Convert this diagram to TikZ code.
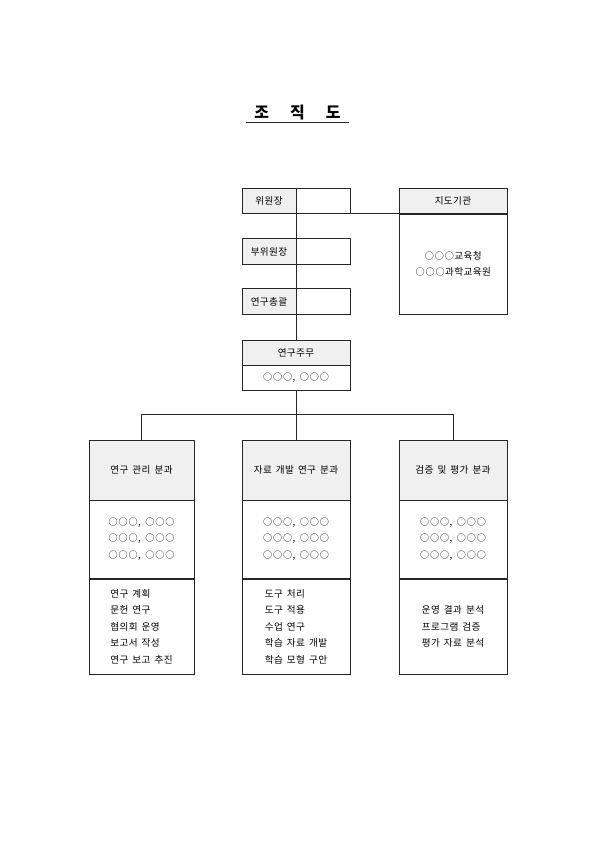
\documentclass[tikz,border=0pt]{standalone}
\usepackage{fontspec}
\setmainfont{Noto Sans CJK KR}[LetterSpace=4, WordSpace=1.6]
\usepackage{tikz}
\pgfdeclarelayer{edgelayer}
\pgfdeclarelayer{nodelayer}
\pgfsetlayers{edgelayer,nodelayer,main}
\tikzstyle{edge}=[draw=black!85, line width=0.8pt]
\tikzstyle{cell}=[rectangle, draw=black!85, line width=0.8pt, fill=white, inner sep=0pt, outer sep=0pt, font=\fontsize{9.6}{16.5}\selectfont, align=center]
\tikzstyle{head}=[cell, fill=gray!12]
\tikzstyle{half}=[minimum width=54pt, minimum height=25.5pt]
\tikzstyle{wide}=[minimum width=108pt]
\tikzstyle{div}=[minimum width=105pt]
\tikzstyle{tasks}=[cell, div, minimum height=95pt, align=left]
\newcommand{\blank}{\makebox[10pt]{\scalebox{0.95}{○}}}
\newcommand{\nm}{\blank\blank\blank}
\newcommand{\pair}{\nm, \nm}

\begin{document}
\begin{tikzpicture}[x=1pt, y=-1pt]
				\useasboundingbox (0,0) rectangle (595,842);
				\begin{pgfonlayer}{nodelayer}
					\node [font=\fontsize{16}{16}\bfseries, minimum width=103pt, inner sep=2pt] (title) at (297.5, 113) {조\hspace{21pt}직\hspace{21pt}도};
					\node [style=head, style=half] (chair) at (269, 201) {위원장};
					\node [style=cell, style=half] (chairR) at (323, 201) {};
					\node [style=head, style=half] (vice) at (269, 251.5) {부위원장};
					\node [style=cell, style=half] (viceR) at (323, 251.5) {};
					\node [style=head, style=half] (gen) at (269, 301.5) {연구총괄};
					\node [style=cell, style=half] (genR) at (323, 301.5) {};
					\node [style=head, style=wide, minimum height=25.5pt] (guideHead) at (453, 201) {지도기관};
					\node [style=cell, style=wide, minimum height=100pt] (guideBody) at (453, 264) {\nm 교육청\\\nm 과학교육원};
					\node [style=head, style=wide, minimum height=25pt] (leadHead) at (296, 352.5) {연구주무};
					\node [style=cell, style=wide, minimum height=25pt] (leadBody) at (296, 377.5) {\pair};
					\node [style=head, style=div, minimum height=60pt] (mgmtHead) at (141.5, 470) {연구 관리 분과};
					\node [style=cell, style=div, minimum height=78pt] (mgmtBody) at (141.5, 539) {\pair\\\pair\\\pair};
					\node [style=tasks] (mgmtList) at (141.5, 626.5) {연구 계획\\문헌 연구\\협의회 운영\\보고서 작성\\연구 보고 추진};
					\node [style=head, style=wide, minimum height=60pt] (devHead) at (296, 470) {자료 개발 연구 분과};
					\node [style=cell, style=wide, minimum height=78pt] (devBody) at (296, 539) {\pair\\\pair\\\pair};
					\node [style=tasks, style=wide] (devList) at (296, 626.5) {도구 처리\\도구 적용\\수업 연구\\학습 자료 개발\\학습 모형 구안};
					\node [style=head, style=wide, minimum height=60pt] (evalHead) at (453, 470) {검증 및 평가 분과};
					\node [style=cell, style=wide, minimum height=78pt] (evalBody) at (453, 539) {\pair\\\pair\\\pair};
					\node [style=tasks, style=wide] (evalList) at (453, 626.5) {운영 결과 분석\\프로그램 검증\\평가 자료 분석};
					\coordinate (split) at (296, 414);
					\coordinate (branchL) at (141.5, 414);
					\coordinate (branchR) at (453, 414);
				\end{pgfonlayer}
				\begin{pgfonlayer}{edgelayer}
					\draw [style=edge] (title.south west) to (title.south east);
					\draw [style=edge] (chair.north east) to (leadHead.north);
					\draw [style=edge] (chairR.south east) to (guideHead.south west);
					\draw [style=edge] (leadBody.south) to (split);
					\draw [style=edge] (branchL) to (branchR);
					\draw [style=edge] (branchL) to (mgmtHead.north);
					\draw [style=edge] (split) to (devHead.north);
					\draw [style=edge] (branchR) to (evalHead.north);
				\end{pgfonlayer}
			\end{tikzpicture}
\end{document}
